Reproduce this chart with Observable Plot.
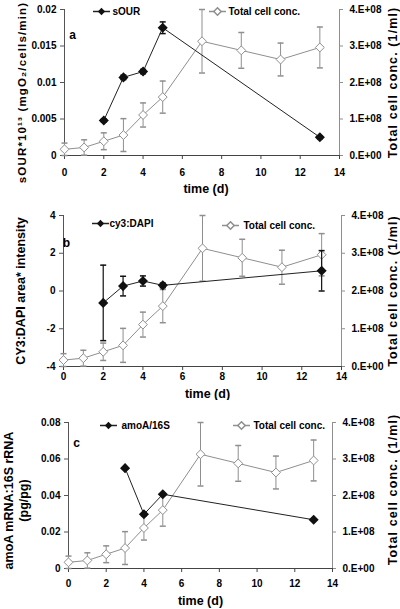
<!DOCTYPE html>
<html><head><meta charset="utf-8">
<script src="https://cdn.jsdelivr.net/npm/d3@7"></script>
<script src="https://cdn.jsdelivr.net/npm/@observablehq/plot@0.6"></script>
<style>
body{margin:0;background:#fff;}
#chart{width:400px;height:609px;overflow:hidden;}
#chart svg{display:block;}
</style></head><body><div id="chart"></div>
<script>
// shared total cell concentration (x 1e8 cells/ml)
const days = [0,1,2,3,4,5,7,9,11,13];
const cellConc = [0.17,0.22,0.39,0.56,1.11,1.60,3.13,2.88,2.63,2.96];
const cellErr  = [0.17,0.21,0.23,0.45,0.33,0.44,0.87,0.49,0.45,0.56];

// panel a
const sourDays = [2,3,4,5,13];
const sour     = [0.0048,0.0107,0.0115,0.0175,0.0025];
const sourErr  = [0.0002,0.0003,0.0003,0.0008,0.0002];
// panel b
const cy3Days = [2,3,4,5,13];
const cy3     = [-0.63,0.26,0.53,0.30,1.07];
const cy3Err  = [2.0,0.52,0.27,0.12,1.07];
// panel c
const amoaDays = [3,4,5,13];
const amoa     = [0.055,0.0297,0.0407,0.0267];
const amoaErr  = [0,0,0,0];

const xTicks = [0,2,4,6,8,10,12,14];
const rightTicks = [0,1,2,3,4];
const rightTickLabels = ["0.E+00","1.E+08","2.E+08","3.E+08","4.E+08"];

const aTicks = [0,0.005,0.01,0.015,0.02];
const aTickLabels = ["0","0.005","0.01","0.015","0.02"];
const bTicks = [-4,-2,0,2,4];
const bTickLabels = ["-4","-2","0","2","4"];
const cTicks = [0,0.02,0.04,0.06,0.08];
const cTickLabels = ["0","0.02","0.04","0.06","0.08"];

const FONT = '"Liberation Sans Narrow","Arial Narrow","Liberation Sans",Arial,sans-serif';
const TFONT = '"Liberation Sans",Arial,sans-serif';
const gray = "#8f8f8f", black = "#111";
const capSym = {draw(ctx){ctx.moveTo(-3,0);ctx.lineTo(3,0);}};
const legLine = {draw(ctx){ctx.moveTo(-8.5,0);ctx.lineTo(8.5,0);}};

function panel(cfg){
  const yMin = cfg.yTicks[0], yMax = cfg.yTicks[cfg.yTicks.length-1];
  const toL = v => yMin + (v - rightTicks[0])/(rightTicks[rightTicks.length-1]-rightTicks[0])*(yMax-yMin);
  const fromL = y => (y - yMin)/(yMax-yMin)*(rightTicks[rightTicks.length-1]-rightTicks[0]);
  const cells = days.map((t,i)=>({t, v: toL(cellConc[i]), lo: toL(cellConc[i]-cellErr[i]), hi: toL(cellConc[i]+cellErr[i])}));
  const blk = cfg.days.map((t,i)=>({t, v: cfg.vals[i], lo: cfg.vals[i]-cfg.errs[i], hi: cfg.vals[i]+cfg.errs[i]}));
  const blkErr = blk.filter(d=>d.hi>d.lo);
  const L = cfg.leg;
  const mid = {textAnchor: "middle", lineAnchor: "middle", fontFamily: TFONT};
  const titleMarks = cfg.yTitles.map((t, i) =>
    Plot.text([t], {...mid, frameAnchor: "left", rotate: -90, dx: cfg.yT[i][0], dy: cfg.yT[i][1], fontSize: cfg.yTSize}));
  const svg = Plot.plot({
    width: 400, height: cfg.height,
    marginTop: cfg.m[0], marginRight: cfg.m[1], marginBottom: cfg.m[2], marginLeft: cfg.m[3],
    x: {domain: [xTicks[0], xTicks[xTicks.length-1]]},
    y: {domain: [yMin, yMax]},
    style: {fontFamily: FONT, fontWeight: "bold", fontSize: "10px", color: "#000", background: "#fff"},
    marks: [
      Plot.ruleY([yMin], {stroke: "#444"}),
      Plot.ruleX([xTicks[0]], {stroke: "#555"}),
      Plot.ruleX([xTicks[xTicks.length-1]], {stroke: gray}),
      Plot.axisX({ticks: xTicks, tickSize: 4, tickPadding: cfg.xPad, label: null, tickFormat: d=>String(d), stroke:"#444"}),
      Plot.axisY({ticks: cfg.yTicks, tickSize: 4, tickPadding: 4, label: null, tickFormat: (d)=>cfg.yLabels[cfg.yTicks.indexOf(d)], stroke:"#555"}),
      Plot.axisY({anchor: "right", ticks: rightTicks.map(toL), tickSize: 3, tickPadding: 7, label: null,
        tickFormat: d => rightTickLabels[Math.round(fromL(d))], stroke: gray}),
      // total cell conc.
      Plot.ruleX(cells, {x: "t", y1: "lo", y2: "hi", stroke: gray}),
      Plot.dot(cells, {x: "t", y: "hi", symbol: capSym, stroke: gray, fill: "none"}),
      Plot.dot(cells, {x: "t", y: "lo", symbol: capSym, stroke: gray, fill: "none"}),
      Plot.lineY(cells, {x: "t", y: "v", stroke: gray, strokeWidth: 1}),
      Plot.dot(cells, {x: "t", y: "v", symbol: "diamond2", r: 4, stroke: gray, fill: "#fff", strokeWidth: 1}),
      // black series
      Plot.ruleX(blkErr, {x: "t", y1: "lo", y2: "hi", stroke: black, strokeWidth: 1.2}),
      Plot.dot(blkErr, {x: "t", y: "hi", symbol: capSym, stroke: black, fill: "none"}),
      Plot.dot(blkErr, {x: "t", y: "lo", symbol: capSym, stroke: black, fill: "none"}),
      Plot.lineY(blk, {x: "t", y: "v", stroke: "#222", strokeWidth: 1}),
      Plot.dot(blk, {x: "t", y: "v", symbol: "diamond2", r: 3.6, fill: black, stroke: black}),
      // legend
      Plot.dot([0], {frameAnchor: "top-left", dx: L[0], dy: L[2], symbol: legLine, stroke: "#222", fill: "none"}),
      Plot.dot([0], {frameAnchor: "top-left", dx: L[0], dy: L[2], symbol: "diamond2", r: 3.3, fill: black}),
      Plot.text([cfg.name], {...mid, frameAnchor: "top-left", dx: L[1], dy: L[2], textAnchor: "start", fontSize: 10}),
      Plot.dot([0], {frameAnchor: "top-left", dx: L[3], dy: L[5], symbol: legLine, stroke: gray, fill: "none"}),
      Plot.dot([0], {frameAnchor: "top-left", dx: L[3], dy: L[5], symbol: "diamond2", r: 3.3, stroke: gray, fill: "#fff"}),
      Plot.text(["Total cell conc."], {...mid, frameAnchor: "top-left", dx: L[4], dy: L[5], textAnchor: "start", fontSize: 10}),
      // panel letter
      Plot.text([cfg.letter], {...mid, frameAnchor: "top-left", dx: cfg.letterPos[0], dy: cfg.letterPos[1], fontSize: 12}),
      // titles
      ...titleMarks,
      Plot.text(["Total cell conc. (1/ml)"], {...mid, frameAnchor: "right", rotate: -90, dx: cfg.rT[0], dy: cfg.rT[1], fontSize: 12.5}),
      Plot.text(["time (d)"], {...mid, frameAnchor: "bottom", dx: cfg.xT[0], dy: cfg.xT[1], fontSize: 12.5})
    ]
  });
  d3.select(svg).selectAll("text").each(function(){
    const t = this.textContent;
    if (t === "Total cell conc. (1/ml)") this.setAttribute("letter-spacing", "1.1");
    if (cfg.spaced && t === cfg.yTitles[0]) this.setAttribute("letter-spacing", "1.15");
  });
  return svg;
}

const root = document.getElementById("chart");
root.append(panel({
  height: 196, m: [9, 61, 41, 64], xPad: 9,
  yTicks: aTicks, yLabels: aTickLabels,
  days: sourDays, vals: sour, errs: sourErr, name: "sOUR",
  leg: [37, 48, 2, 153, 164, 2], letter: "a", letterPos: [8, 26],
  yTitles: ["sOUR*10¹³ (mgO₂/cells/min)"], yT: [[-42, 10]], yTSize: 11.5, spaced: true,
  rT: [53, 0], xT: [4, 33]
}));
root.append(panel({
  height: 204, m: [19, 59, 34, 63], xPad: 2,
  yTicks: bTicks, yLabels: bTickLabels,
  days: cy3Days, vals: cy3, errs: cy3Err, name: "cy3:DAPI",
  leg: [37, 46, 8, 167, 180, 10], letter: "b", letterPos: [3, 28],
  yTitles: ["CY3:DAPI area* intensity"], yT: [[-43, 0]], yTSize: 12.5, spaced: false,
  rT: [51, 0], xT: [5, 27]
}));
root.append(panel({
  height: 209, m: [22, 68, 41, 68], xPad: 7,
  yTicks: cTicks, yLabels: cTickLabels,
  days: amoaDays, vals: amoa, errs: amoaErr, name: "amoA/16S",
  leg: [40, 53, 3, 173, 185, 3], letter: "c", letterPos: [8, 21],
  yTitles: ["amoA mRNA:16S rRNA", "(pg/pg)"], yT: [[-60, 5], [-45, 5]], yTSize: 12.5, spaced: false,
  rT: [60, -6], xT: [0, 32]
}));
</script></body></html>
